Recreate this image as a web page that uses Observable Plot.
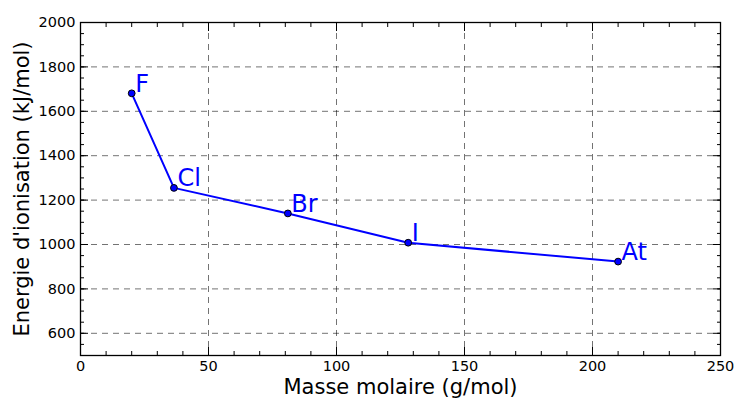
<!DOCTYPE html>
<html>
<head>
<meta charset="utf-8">
<script src="https://cdn.jsdelivr.net/npm/d3@7"></script>
<script src="https://cdn.jsdelivr.net/npm/@observablehq/plot@0.6"></script>
<style>
  html, body { margin: 0; padding: 0; background: #fff; }
</style>
</head>
<body>
<div id="chart"></div>
<script>
const elements = ["F", "Cl", "Br", "I", "At"];
const masses = [20, 36.5, 81, 128, 210];
const energies = [1681, 1255, 1140, 1008, 923];
const xMajor = [0, 50, 100, 150, 200, 250];
const xMinor = d3.range(0, 251, 10);
const yMajor = [600, 800, 1000, 1200, 1400, 1600, 1800, 2000];
const yMinor = d3.range(500, 2001, 50);
const xLabel = "Masse molaire (g/mol)";
const yLabel = "Energie d'ionisation (kJ/mol)";

const data = elements.map((e, i) => ({el: e, x: masses[i], y: energies[i]}));

const blue = "#0000ff";
const gridStyle = {stroke: "#000", strokeOpacity: 0.55, strokeDasharray: "6,5", strokeWidth: 1};
const blank = () => "";

const chart = Plot.plot({
  width: 734,
  height: 398,
  marginLeft: 80,
  marginRight: 14,
  marginTop: 22,
  marginBottom: 43,
  style: {fontFamily: "DejaVu Sans", fontSize: "14.5px", color: "#000", background: "#fff"},
  x: {domain: [0, 250], axis: null},
  y: {domain: [500, 2000], axis: null},
  marks: [
    Plot.gridX(xMajor.filter(v => v > 0 && v < 250), gridStyle),
    Plot.gridY(yMajor.filter(v => v < 2000), gridStyle),
    // bottom axis
    Plot.axisX(xMajor, {anchor: "bottom", tickSize: -8, tickPadding: 13, tickFormat: d => String(d), label: null, fontSize: 14.5}),
    Plot.axisX(xMinor, {anchor: "bottom", tickSize: -4, tickFormat: blank, label: null}),
    // top axis
    Plot.axisX(xMajor, {anchor: "top", tickSize: -8, tickFormat: blank, label: null}),
    Plot.axisX(xMinor, {anchor: "top", tickSize: -4, tickFormat: blank, label: null}),
    // left axis
    Plot.axisY(yMajor, {anchor: "left", tickSize: -8, tickPadding: 13, tickFormat: d => String(d), label: null, fontSize: 14.5}),
    Plot.axisY(yMinor, {anchor: "left", tickSize: -4, tickFormat: blank, label: null}),
    // right axis
    Plot.axisY(yMajor, {anchor: "right", tickSize: -8, tickFormat: blank, label: null}),
    Plot.axisY(yMinor, {anchor: "right", tickSize: -4, tickFormat: blank, label: null}),
    Plot.frame({stroke: "#000", strokeWidth: 1.3}),
    Plot.line(data, {x: "x", y: "y", stroke: blue, strokeWidth: 2}),
    Plot.dot(data, {x: "x", y: "y", r: 3.4, fill: blue, stroke: "#000", strokeWidth: 1}),
    Plot.text(data, {x: "x", y: "y", text: "el", fill: blue, fontSize: 24, textAnchor: "start", lineAnchor: "bottom", dx: 3.5, dy: -1.5}),
    Plot.text([xLabel], {text: d => d, frameAnchor: "bottom", textAnchor: "middle", lineAnchor: "bottom", dy: 38, fontSize: 21, fill: "#000"}),
    Plot.text([yLabel], {text: d => d, frameAnchor: "left", textAnchor: "middle", rotate: -90, lineAnchor: "bottom", dx: -51.5, fontSize: 21, fill: "#000"})
  ]
});
document.getElementById("chart").appendChild(chart);
</script>
</body>
</html>
